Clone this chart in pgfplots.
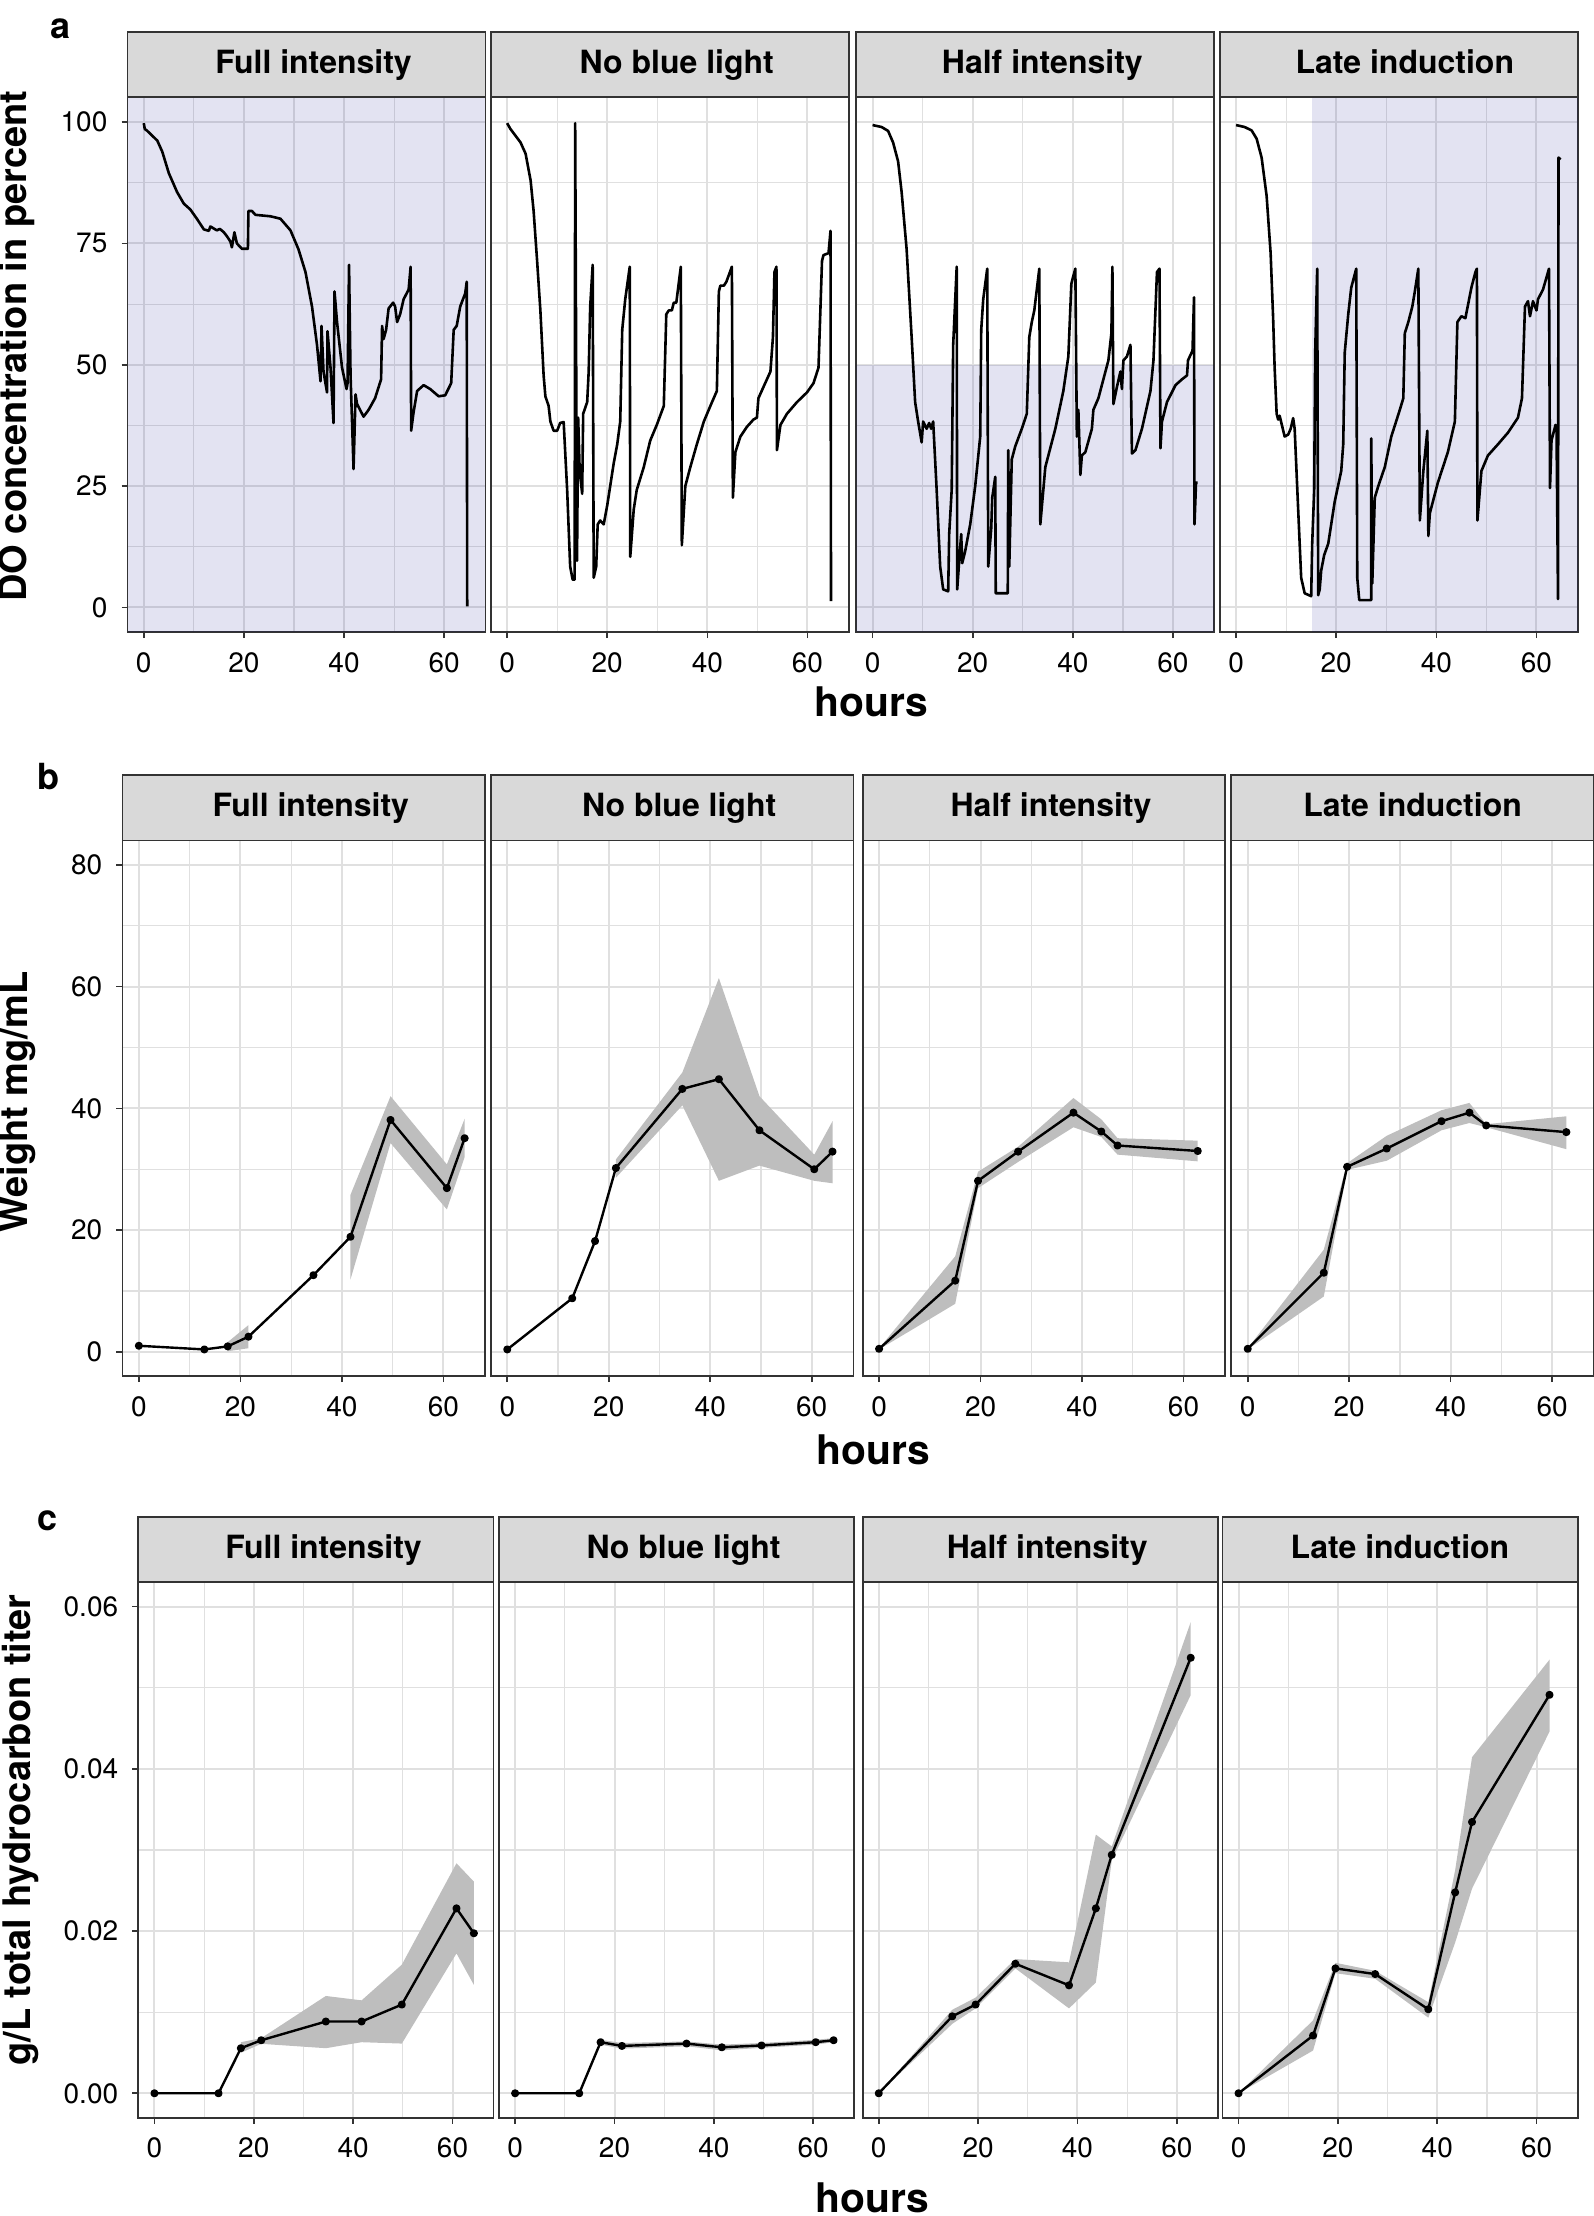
\documentclass[border=0pt]{standalone}
\usepackage{fontspec}
\setmainfont{TeX Gyre Heros}
\usepackage{pgfplots}
\pgfplotsset{compat=1.18}

\definecolor{axcol}{HTML}{333333}
\definecolor{gridcol}{HTML}{E0E0E0}
\definecolor{stripcol}{HTML}{D9D9D9}
\definecolor{ribcol}{HTML}{BEBEBE}
\definecolor{shadecol}{HTML}{00008B}

\pgfplotsset{
 facet/.style={
  scale only axis, anchor=south west,
  xmin=-3.25, xmax=68.25,
  xtick={0,20,40,60},
  minor x tick num=1, minor y tick num=1,
  grid=both,
  major grid style={draw=gridcol, line width=0.5pt},
  minor grid style={draw=gridcol, line width=0.3pt},
  axis line style={draw=axcol, line width=0.45pt},
  every tick/.style={draw=axcol, line width=0.4pt},
  tick align=outside, tick pos=left,
  major tick length=1.5pt, minor tick length=0pt,
  tick label style={font=\fontsize{7}{8}\selectfont, text=black},
  /pgf/number format/assume math mode=true,
  scaled y ticks=false,
 },
 inner/.style={yticklabels={}, ytick style={draw=none}},
 rowa/.style={facet, width=89.5pt, height=133.725pt, ymin=-5.125, ymax=105.125, ytick={0,25,50,75,100}},
 rowb/.style={facet, width=90.7pt, height=133.925pt, ymin=-4, ymax=84, ytick={0,20,40,60,80}},
 rowc/.style={facet, width=88.8pt, height=133.825pt, ymin=-0.003, ymax=0.063, ytick={0,0.02,0.04,0.06},
   yticklabel style={/pgf/number format/.cd, fixed, fixed zerofill, precision=2}},
 dol/.style={black, line width=0.65pt, line join=round, no markers},
 ser/.style={black, line width=0.6pt, line join=round, mark=*, mark size=0.7pt, mark options={solid, fill=black}},
 rib/.style={fill=ribcol, draw=none, forget plot},
}
\tikzset{
 strip/.style={fill=stripcol, draw=axcol, line width=0.45pt},
 striptxt/.style={font=\fontsize{8}{9}\selectfont\bfseries, text=black, anchor=base, inner sep=0pt},
 ttl/.style={font=\fontsize{9.5}{11}\selectfont\bfseries, text=black},
 hrs/.style={font=\fontsize{10.2}{12}\selectfont\bfseries, text=black},
 plab/.style={font=\fontsize{9}{10}\selectfont\bfseries, text=black},
 shade/.style={fill=shadecol, fill opacity=0.11, draw=none},
}
\newcommand{\strip}[3]{%
  \draw[strip] (#1.north west) rectangle ([yshift=16.3pt]#1.north east);
  \node[striptxt] at ([xshift=#3, yshift=6.0pt]#1.north) {#2};}

\begin{document}
\begin{tikzpicture}
\useasboundingbox (0,0) rectangle (398.5pt,-554pt);

% ================= Row a =================
\begin{axis}[rowa, name=a1, at={(31.875pt,-158.05pt)}]
\fill[shade] (rel axis cs:0,0) rectangle (rel axis cs:1,1);
\addplot[dol] coordinates {(0,99.8) (0.2,98.6) (0.7,98.2) (1.7,97.2) (2.7,96.2) (3.7,93.9) (5.0,89.5) (6.65,85.6) (8.0,83.2) (9.3,82.0) (10.6,80.1) (12.0,77.9) (13.0,77.6) (13.3,78.5) (14.6,77.7) (15.2,78.0) (16.0,77.3) (16.6,76.5) (17.3,75.4) (17.6,74.2) (18.1,77.3) (18.6,75.0) (19.6,73.9) (20.8,73.9) (20.9,81.7) (21.6,81.7) (22.3,80.9) (25.3,80.6) (27.3,80.1) (29.3,77.7) (30.9,73.8) (32.3,69.1) (33.6,62.0) (34.6,54.1) (35.3,46.6) (35.5,58.0) (35.9,48.6) (36.6,44.3) (36.7,56.9) (37.3,49.4) (37.9,38.0) (38.1,65.1) (38.6,58.8) (39.6,49.4) (40.5,45.0) (40.7,46.2) (41.0,70.6) (41.3,47.8) (41.9,28.5) (42.3,43.9) (42.6,41.9) (43.9,39.3) (44.9,40.7) (46.2,43.1) (47.4,47.0) (47.6,58.0) (47.9,55.3) (48.4,57.2) (48.9,61.6) (49.8,62.8) (50.2,62.0) (50.6,58.8) (51.2,60.4) (51.9,63.5) (52.9,65.5) (53.3,70.2) (53.4,36.4) (53.9,40.3) (54.6,44.6) (55.9,45.8) (57.2,45.0) (58.9,43.5) (60.2,43.7) (61.4,46.2) (61.9,57.2) (62.5,58.0) (63.2,62.0) (64.2,64.7) (64.5,67.1) (64.6,0.2)};
\end{axis}
\strip{a1}{Full intensity}{1.75pt}

\begin{axis}[rowa, inner, name=a2, at={(122.7pt,-158.05pt)}]
\addplot[dol] coordinates {(0,99.8) (0.67,98.6) (2.7,95.8) (3.7,93.5) (4.7,88.0) (5.3,81.7) (6.0,71.4) (6.65,61.2) (7.3,47.8) (7.65,43.5) (8.3,41.5) (8.65,38.3) (9.3,36.4) (10.0,36.4) (10.6,38.0) (11.3,38.2) (12.0,24.2) (12.6,8.4) (13.1,5.7) (13.5,5.7) (13.6,99.8) (13.97,9.6) (14.2,39.1) (14.5,28.1) (15.0,23.4) (15.2,39.9) (16.0,42.3) (16.3,48.6) (16.6,62.0) (17.1,70.6) (17.3,6.1) (17.8,8.4) (18.1,17.1) (18.6,17.9) (19.3,17.1) (20.0,21.0) (21.3,29.7) (22.0,33.6) (22.6,38.3) (23.0,57.2) (23.6,63.5) (24.5,70.2) (24.6,10.4) (25.3,20.2) (25.9,24.2) (27.3,28.9) (28.6,34.4) (29.9,37.6) (31.3,41.5) (31.8,60.4) (32.3,61.2) (32.9,61.2) (33.3,62.8) (33.8,62.8) (34.7,70.2) (34.9,12.8) (35.6,25.0) (36.6,28.9) (37.9,33.6) (39.3,38.3) (40.6,41.5) (41.9,44.6) (42.3,65.1) (42.6,66.3) (43.3,66.3) (43.8,67.1) (44.9,70.2) (45.1,22.6) (45.6,32.0) (46.6,35.2) (47.9,37.2) (49.2,38.7) (49.9,39.1) (50.2,43.1) (51.2,45.4) (52.6,48.6) (53.1,55.7) (53.4,69.1) (53.8,70.2) (53.9,32.4) (54.6,37.6) (55.9,39.9) (57.9,42.3) (59.9,44.3) (61.2,46.2) (62.2,49.4) (62.9,71.4) (63.2,72.6) (64.2,73.0) (64.6,77.6) (64.7,1.3)};
\end{axis}
\strip{a2}{No blue light}{1.75pt}

\begin{axis}[rowa, inner, name=a3, at={(214.075pt,-158.05pt)}]
\fill[shade] (rel axis cs:0,0) rectangle (axis cs:68.25,50);
\addplot[dol] coordinates {(0,99.4) (1.8,99.0) (3.1,98.2) (4.1,95.8) (5.1,91.9) (5.8,85.6) (6.8,73.8) (7.8,55.7) (8.5,42.3) (9.1,38.3) (9.8,34.0) (10.1,38.3) (10.8,36.8) (11.3,38.0) (11.7,36.8) (12.1,38.3) (12.8,24.2) (13.5,8.4) (14.1,3.7) (15.1,3.3) (15.3,15.1) (15.8,24.2) (16.1,54.1) (16.8,70.2) (16.9,3.7) (17.3,9.6) (17.7,15.1) (17.9,9.1) (18.5,11.6) (19.5,17.1) (20.5,25.0) (21.5,35.2) (21.7,57.2) (22.1,63.5) (22.9,69.8) (23.1,8.4) (23.7,16.3) (23.9,22.6) (24.5,26.9) (24.6,2.9) (27.0,2.9) (27.1,32.4) (27.3,8.4) (27.8,30.5) (28.5,33.2) (29.8,36.8) (30.8,39.9) (31.3,55.7) (31.8,58.8) (32.3,61.2) (33.3,69.8) (33.5,17.1) (34.5,28.9) (36.5,36.8) (38.1,44.6) (39.1,51.7) (39.7,66.7) (40.1,68.3) (40.5,69.8) (40.8,35.2) (41.1,40.7) (41.5,27.3) (41.8,31.3) (42.5,32.0) (43.8,36.8) (44.1,40.7) (45.1,43.1) (47.1,50.9) (47.7,56.5) (47.9,70.2) (48.1,41.9) (48.8,45.4) (49.5,48.6) (49.8,45.0) (50.1,50.9) (50.8,51.7) (51.5,54.1) (51.8,31.7) (52.5,32.4) (53.8,36.8) (55.5,44.6) (56.1,50.9) (56.8,69.1) (57.3,69.8) (57.5,32.8) (57.8,38.3) (58.8,42.3) (60.5,45.8) (61.8,47.0) (62.8,47.8) (63.0,50.9) (63.9,52.9) (64.2,63.9) (64.3,17.1) (64.6,25.7) (64.9,25.7)};
\end{axis}
\strip{a3}{Half intensity}{1.75pt}

\begin{axis}[rowa, inner, name=a4, at={(304.95pt,-158.05pt)}]
\fill[shade] (axis cs:15.2,-5.125) rectangle (rel axis cs:1,1);
\addplot[dol] coordinates {(0,99.4) (1.7,99.0) (3.1,98.3) (4.1,96.6) (5.1,92.7) (6.1,84.8) (6.9,73.0) (7.4,59.6) (7.7,49.4) (8.1,39.9) (8.4,38.7) (8.7,39.5) (9.7,35.2) (10.4,35.6) (10.9,36.8) (11.4,39.0) (11.7,36.8) (12.4,20.2) (13.0,6.1) (13.7,2.9) (15.0,2.3) (15.2,13.1) (15.6,24.2) (15.8,52.5) (16.2,69.8) (16.4,2.5) (16.7,3.7) (17.0,7.6) (17.6,10.8) (18.4,13.1) (19.7,21.8) (21.0,28.1) (21.4,33.6) (21.7,52.5) (22.4,60.4) (23.0,65.9) (24.0,69.8) (24.2,6.1) (24.6,1.5) (27.0,1.5) (27.0,34.8) (27.2,4.9) (27.7,22.6) (28.4,25.0) (29.7,28.9) (31.0,35.2) (32.7,40.7) (33.4,43.1) (33.7,56.5) (34.4,58.8) (35.2,62.0) (35.7,65.1) (36.4,69.8) (36.7,17.9) (37.4,28.1) (38.2,36.4) (38.4,14.7) (38.7,19.4) (40.3,25.7) (42.3,32.0) (43.7,38.3) (44.2,58.8) (45.0,60.0) (45.8,59.6) (47.0,65.9) (47.8,69.1) (48.1,69.8) (48.2,17.9) (49.0,28.1) (50.3,31.3) (52.3,33.6) (54.3,36.0) (56.3,39.1) (57.1,43.1) (57.7,62.0) (58.3,63.1) (58.7,60.0) (59.3,63.1) (60.0,61.2) (60.3,63.5) (61.3,65.5) (62.5,69.8) (62.7,24.6) (63.0,34.4) (63.8,37.6) (64.0,36.8) (64.3,1.7) (64.4,92.7) (64.8,92.3)};
\end{axis}
\strip{a4}{Late induction}{1.5pt}

% ================= Row b =================
\begin{axis}[rowb, name=b1, at={(30.6pt,-344.05pt)}]
\addplot[rib] coordinates {(17.5,1.6) (21.6,4.4) (21.6,0.6) (17.5,0.1)};
\addplot[rib] coordinates {(41.7,25.8) (49.6,42.0) (60.7,30.8) (64.2,38.3) (64.2,32.0) (60.7,23.4) (49.6,34.3) (41.7,11.9)};
\addplot[ser] coordinates {(0,1.0) (12.9,0.4) (17.5,0.9) (21.6,2.5) (34.4,12.6) (41.7,18.9) (49.6,38.1) (60.7,26.9) (64.2,35.1)};
\end{axis}
\strip{b1}{Full intensity}{1.75pt}

\begin{axis}[rowb, inner, name=b2, at={(122.7pt,-344.05pt)}]
\addplot[rib] coordinates {(21.4,31.6) (34.5,45.9) (41.7,61.4) (49.7,42.0) (60.5,32.4) (64.1,37.9) (64.1,27.7) (60.5,28.1) (49.7,30.6) (41.7,28.1) (34.5,40.5) (21.4,28.6)};
\addplot[ser] coordinates {(0,0.4) (12.8,8.8) (17.3,18.2) (21.4,30.2) (34.5,43.2) (41.7,44.8) (49.7,36.4) (60.5,30.0) (64.1,32.9)};
\end{axis}
\strip{b2}{No blue light}{1.75pt}

\begin{axis}[rowb, inner, name=b3, at={(215.65pt,-344.05pt)}]
\addplot[rib] coordinates {(0,0.6) (15.0,15.7) (19.5,29.6) (27.4,33.7) (38.3,41.7) (43.8,38.2) (47.0,35.1) (62.8,34.7) (62.8,31.3) (47.0,32.4) (43.8,35.3) (38.3,36.9) (27.4,31.2) (19.5,26.9) (15.0,7.9) (0,0.4)};
\addplot[ser] coordinates {(0,0.5) (15.0,11.7) (19.5,28.1) (27.4,32.9) (38.3,39.3) (43.8,36.2) (47.0,33.9) (62.8,33.0)};
\end{axis}
\strip{b3}{Half intensity}{1.75pt}

\begin{axis}[rowb, inner, name=b4, at={(307.8pt,-344.05pt)}]
\addplot[rib] coordinates {(0,0.6) (15.0,16.8) (19.6,31.0) (27.4,35.5) (38.2,39.7) (43.7,40.9) (47.0,37.4) (62.8,38.7) (62.8,33.3) (47.0,36.9) (43.7,37.6) (38.2,36.4) (27.4,31.4) (19.6,29.9) (15.0,9.1) (0,0.4)};
\addplot[ser] coordinates {(0,0.5) (15.0,13.0) (19.6,30.4) (27.4,33.4) (38.2,37.9) (43.7,39.3) (47.0,37.2) (62.8,36.1)};
\end{axis}
\strip{b4}{Late induction}{0pt}

% ================= Row c =================
\begin{axis}[rowc, name=c1, at={(34.575pt,-529.4pt)}]
\addplot[rib] coordinates {(17.4,0.0063) (21.5,0.0068) (34.5,0.0120) (41.7,0.01146) (49.8,0.01586) (60.8,0.02836) (64.3,0.0261) (64.3,0.01337) (60.8,0.01725) (49.8,0.00613) (41.7,0.0063) (34.5,0.00556) (21.5,0.0061) (17.4,0.0050)};
\addplot[ser] coordinates {(0,0) (12.9,0) (17.4,0.00556) (21.5,0.00654) (34.5,0.00885) (41.7,0.00885) (49.8,0.01094) (60.8,0.0228) (64.3,0.01973)};
\end{axis}
\strip{c1}{Full intensity}{1.9pt}

\begin{axis}[rowc, inner, name=c2, at={(124.75pt,-529.4pt)}]
\addplot[rib] coordinates {(17.2,0.0066) (21.5,0.0062) (34.5,0.0064) (41.6,0.0060) (49.6,0.0062) (60.5,0.0066) (64.1,0.0068) (64.1,0.0063) (60.5,0.0060) (49.6,0.0056) (41.6,0.0053) (34.5,0.0058) (21.5,0.0055) (17.2,0.0060)};
\addplot[ser] coordinates {(0,0) (12.9,0) (17.2,0.0063) (21.5,0.00584) (34.5,0.00613) (41.6,0.00567) (49.6,0.0059) (60.5,0.0063) (64.1,0.00654)};
\end{axis}
\strip{c2}{No blue light}{1.75pt}

\begin{axis}[rowc, inner, name=c3, at={(215.65pt,-529.4pt)}]
\addplot[rib] coordinates {(0,0) (14.8,0.0103) (19.5,0.0118) (27.5,0.01655) (38.3,0.01615) (43.7,0.0319) (46.9,0.03044) (62.8,0.0581) (62.8,0.0491) (46.9,0.0287) (43.7,0.01366) (38.3,0.01047) (27.5,0.0154) (19.5,0.01047) (14.8,0.00856) (0,0)};
\addplot[ser] coordinates {(0,0) (14.8,0.00949) (19.5,0.01094) (27.5,0.01597) (38.3,0.01331) (43.7,0.0228) (46.9,0.0294) (62.8,0.0537)};
\end{axis}
\strip{c3}{Half intensity}{1.75pt}

\begin{axis}[rowc, inner, name=c4, at={(305.6pt,-529.4pt)}]
\addplot[rib] coordinates {(0,0) (15.0,0.0090) (19.5,0.01609) (27.5,0.0151) (38.2,0.01123) (43.6,0.0275) (47.0,0.04144) (62.6,0.05347) (62.6,0.0446) (47.0,0.02523) (43.6,0.01858) (38.2,0.00932) (27.5,0.01412) (19.5,0.01481) (15.0,0.00527) (0,0)};
\addplot[ser] coordinates {(0,0) (15.0,0.00712) (19.5,0.0154) (27.5,0.0147) (38.2,0.01036) (43.6,0.02477) (47.0,0.03345) (62.6,0.04913)};
\end{axis}
\strip{c4}{Late induction}{0pt}

% ================= Titles =================
\node[plab] at (15.25pt,-7.25pt) {a};
\node[plab] at (12pt,-194.25pt) {b};
\node[plab] at (11.9pt,-380.25pt) {c};
\node[ttl, rotate=90] at (4pt,-86.5pt) {DO concentration in percent};
\node[ttl, rotate=90] at (4.25pt,-275.5pt) {Weight mg/mL};
\node[ttl, rotate=90] at (5.25pt,-457.5pt) {g/L total hydrocarbon titer};
\node[hrs] at (217.75pt,-175.5pt) {hours};
\node[hrs] at (218.25pt,-362.5pt) {hours};
\node[hrs, anchor=base] at (218pt,-553.2pt) {hours};
\end{tikzpicture}
\end{document}
